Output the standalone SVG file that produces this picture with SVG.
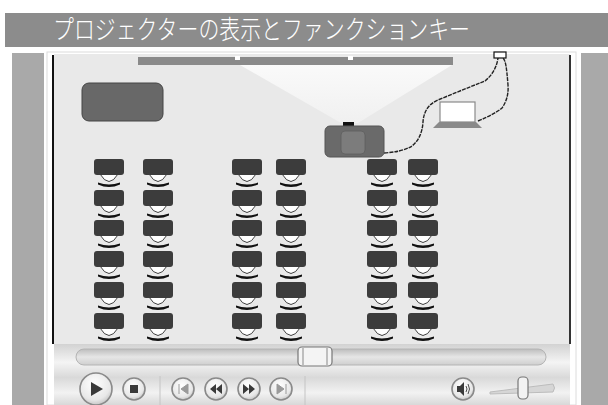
<svg xmlns="http://www.w3.org/2000/svg" width="608" height="405" viewBox="0 0 608 405">
  <defs>
    <style>
      .title { font-family: "Noto Sans CJK JP", "Noto Sans CJK SC", sans-serif; font-size: 26px; font-weight: 300; fill: #ffffff; }
      .panel { fill: #a9a9a9; }
      .desk { fill: #3c3c3c; }
      .chair { fill: #ffffff; stroke: #2a2a2a; stroke-width: 0.9; }
      .seat { fill: #111111; }
      .cable { fill: none; stroke: #222222; stroke-width: 1.4; stroke-dasharray: 4 1; }
      .btn { fill: url(#btnGrad); stroke: #8a8a8a; stroke-width: 1.6; }
      .glyph { fill: #3a3a3a; }
      .sep { stroke: #c4c4c4; stroke-width: 1; }
    </style>
    <linearGradient id="ctrlGrad" x1="0" y1="0" x2="0" y2="1">
      <stop offset="0" stop-color="#d2d2d2"/>
      <stop offset="0.3" stop-color="#f4f4f4"/>
      <stop offset="0.55" stop-color="#d9d9d9"/>
      <stop offset="0.8" stop-color="#f2f2f2"/>
      <stop offset="1" stop-color="#d8d8d8"/>
    </linearGradient>
    <linearGradient id="trackGrad" x1="0" y1="0" x2="0" y2="1">
      <stop offset="0" stop-color="#bdbdbd"/>
      <stop offset="0.5" stop-color="#e6e6e6"/>
      <stop offset="1" stop-color="#cfcfcf"/>
    </linearGradient>
    <radialGradient id="btnGrad" cx="0.45" cy="0.35" r="0.7">
      <stop offset="0" stop-color="#ffffff"/>
      <stop offset="0.7" stop-color="#e8e8e8"/>
      <stop offset="1" stop-color="#bcbcbc"/>
    </radialGradient>
    <linearGradient id="beamGrad" x1="0" y1="0" x2="0" y2="1">
      <stop offset="0" stop-color="#fafafa"/>
      <stop offset="1" stop-color="#f0f0f0"/>
    </linearGradient>
    <!-- one desk with its chair -->
    <g id="seatUnit">
      <path class="chair" d="M6,15 Q15,30 24,15 Z"/>
      <rect class="desk" x="0" y="0" width="30" height="16" rx="3"/>
      <path class="seat" d="M4,23.5 Q15,27.5 26,23.5 L26,25.5 Q15,30.5 4,25.5 Z"/>
    </g>
  </defs>

  <rect width="608" height="405" fill="#ffffff"/>

  <!-- title bar -->
  <g id="title">
    <rect x="5" y="13" width="603" height="34" fill="#8c8c8c"/>
    <text class="title" x="53" y="39" textLength="417" lengthAdjust="spacingAndGlyphs">プロジェクターの表示とファンクションキー</text>
  </g>

  <!-- side panels -->
  <rect class="panel" x="12" y="53" width="32" height="352"/>
  <rect class="panel" x="581" y="53" width="27" height="352"/>

  <!-- classroom field -->
  <rect x="47" y="52" width="529" height="353" fill="#ffffff" stroke="#dcdcdc" stroke-width="1"/>
  <rect x="54" y="54" width="516" height="290" fill="#e9e9e9"/>
  <line x1="53" y1="55" x2="53" y2="344" stroke="#111" stroke-width="2"/>
  <line x1="570" y1="55" x2="570" y2="344" stroke="#333" stroke-width="2"/>

  <!-- light beam from projector to screen -->
  <polygon points="240,65 452,65 358,123 341,123" fill="url(#beamGrad)"/>

  <!-- screen -->
  <g id="screen">
    <rect x="138" y="57" width="315" height="8" fill="#8a8a8a"/>
    <rect x="235" y="56" width="5" height="4" fill="#ffffff"/>
    <rect x="348" y="56" width="5" height="4" fill="#ffffff"/>
  </g>

  <!-- blackboard -->
  <g id="board">
    <rect x="82" y="83" width="81" height="38" rx="7" fill="#686868" stroke="#444" stroke-width="1"/>
  </g>

  <!-- cables -->
  <g id="connectors">
    <path class="cable" d="M384,153 Q402,152 412,146 Q422,138 423,122 Q424,106 438,100 Q462,90 485,81 Q496,72 498,58"/>
    <path class="cable" d="M478,121 Q495,114 502,108 Q509,98 508,85 Q507,72 506,66 Q505,60 503,58"/>
  </g>

  <!-- wall socket -->
  <g id="socket">
    <rect x="494" y="52" width="12" height="6" fill="#ffffff" stroke="#111" stroke-width="1.2"/>
  </g>

  <!-- projector -->
  <g id="projector">
    <rect x="343" y="122" width="11" height="6" fill="#111"/>
    <rect x="325" y="126" width="59" height="31" rx="5" fill="#6a6a6a" stroke="#555" stroke-width="1"/>
    <rect x="341" y="131" width="24" height="23" rx="4" fill="#7c7c7c" stroke="#5e5e5e" stroke-width="0.8"/>
  </g>

  <!-- laptop -->
  <g id="laptop">
    <rect x="440" y="102" width="35" height="20" fill="#ffffff" stroke="#8a8a8a" stroke-width="1.2"/>
    <polygon points="439,122 476,122 482,128 433,128" fill="#8a8a8a"/>
  </g>

  <!-- seats: six columns by six rows -->
  <g id="seats">
    <g id="col1">
      <use href="#seatUnit" x="94" y="159"/><use href="#seatUnit" x="94" y="190"/><use href="#seatUnit" x="94" y="220"/>
      <use href="#seatUnit" x="94" y="251"/><use href="#seatUnit" x="94" y="282"/><use href="#seatUnit" x="94" y="313"/>
    </g>
    <g id="col2">
      <use href="#seatUnit" x="143" y="159"/><use href="#seatUnit" x="143" y="190"/><use href="#seatUnit" x="143" y="220"/>
      <use href="#seatUnit" x="143" y="251"/><use href="#seatUnit" x="143" y="282"/><use href="#seatUnit" x="143" y="313"/>
    </g>
    <g id="col3">
      <use href="#seatUnit" x="232" y="159"/><use href="#seatUnit" x="232" y="190"/><use href="#seatUnit" x="232" y="220"/>
      <use href="#seatUnit" x="232" y="251"/><use href="#seatUnit" x="232" y="282"/><use href="#seatUnit" x="232" y="313"/>
    </g>
    <g id="col4">
      <use href="#seatUnit" x="276" y="159"/><use href="#seatUnit" x="276" y="190"/><use href="#seatUnit" x="276" y="220"/>
      <use href="#seatUnit" x="276" y="251"/><use href="#seatUnit" x="276" y="282"/><use href="#seatUnit" x="276" y="313"/>
    </g>
    <g id="col5">
      <use href="#seatUnit" x="367" y="159"/><use href="#seatUnit" x="367" y="190"/><use href="#seatUnit" x="367" y="220"/>
      <use href="#seatUnit" x="367" y="251"/><use href="#seatUnit" x="367" y="282"/><use href="#seatUnit" x="367" y="313"/>
    </g>
    <g id="col6">
      <use href="#seatUnit" x="408" y="159"/><use href="#seatUnit" x="408" y="190"/><use href="#seatUnit" x="408" y="220"/>
      <use href="#seatUnit" x="408" y="251"/><use href="#seatUnit" x="408" y="282"/><use href="#seatUnit" x="408" y="313"/>
    </g>
  </g>

  <!-- media player controls -->
  <g id="controls">
    <rect x="54" y="344" width="516" height="61" fill="url(#ctrlGrad)"/>
    <rect x="76" y="349" width="470" height="16" rx="8" fill="url(#trackGrad)" stroke="#b4b4b4" stroke-width="1"/>
    <rect x="298" y="347" width="34" height="19" rx="4" fill="#f4f4f4" stroke="#777" stroke-width="1.2"/>
    <line x1="303" y1="348" x2="303" y2="365" stroke="#888" stroke-width="1"/>
    <line x1="327" y1="348" x2="327" y2="365" stroke="#888" stroke-width="1"/>

    <circle class="btn" cx="96" cy="389" r="16"/>
    <path class="glyph" d="M91,382 L103,389 L91,396 Z"/>
    <circle class="btn" cx="134" cy="389" r="11"/>
    <rect class="glyph" x="130" y="385" width="8" height="8"/>

    <line class="sep" x1="160" y1="376" x2="160" y2="405"/>

    <circle class="btn" cx="183" cy="389" r="11"/>
    <path d="M179,384 L179,394 M188,384 L181,389 L188,394 Z" fill="#9a9a9a" stroke="#9a9a9a" stroke-width="1"/>
    <circle class="btn" cx="216" cy="389" r="11"/>
    <path class="glyph" d="M216,384 L210,389 L216,394 Z M222,384 L216,389 L222,394 Z"/>
    <circle class="btn" cx="249" cy="389" r="11"/>
    <path class="glyph" d="M243,384 L249,389 L243,394 Z M249,384 L255,389 L249,394 Z"/>
    <circle class="btn" cx="281" cy="389" r="11"/>
    <path d="M277,384 L284,389 L277,394 Z M286,384 L286,394" fill="#9a9a9a" stroke="#9a9a9a" stroke-width="1"/>

    <line class="sep" x1="305" y1="376" x2="305" y2="405"/>

    <circle class="btn" cx="463" cy="389" r="11"/>
    <path class="glyph" d="M457,386 L460,386 L464,382 L464,396 L460,392 L457,392 Z"/>
    <path d="M466,386 Q468,389 466,392 M468,384 Q471,389 468,394" fill="none" stroke="#3a3a3a" stroke-width="0.9"/>

    <path d="M490,392 L553,384 Q556,388 553,392 L490,394 Z" fill="#d6d6d6" stroke="#bcbcbc" stroke-width="1"/>
    <rect x="518" y="377" width="10" height="22" rx="4" fill="#f2f2f2" stroke="#777" stroke-width="1.2"/>
  </g>
</svg>
